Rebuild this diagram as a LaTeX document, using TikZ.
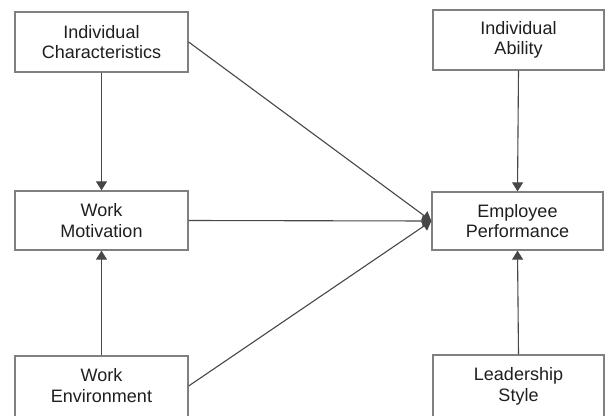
\documentclass[tikz,border=0pt]{standalone}
\usepackage{fontspec}
\setmainfont{Liberation Sans}
\usetikzlibrary{arrows.meta}
\begin{document}
\begin{tikzpicture}[x=1pt,y=-1pt,
  box/.style={draw=black!50, line width=1.3pt, rectangle, align=center, text=black!88,
    font=\fontsize{18}{20.5}\selectfont, inner sep=0pt},
  conn/.style={draw=black!72, line width=1.1pt, -{Triangle[width=11pt,length=9pt]}}]
\useasboundingbox (0,0) rectangle (605,415);
\clip (0,0) rectangle (605,415);
\fill[white] (0,0) rectangle (605,415);
\node[box, minimum width=173pt, minimum height=60pt] (ic) at (101.5,42) {Individual\\Characteristics};
\node[box, minimum width=171pt, minimum height=60pt] (ia) at (518.5,40) {Individual\\Ability};
\node[box, minimum width=173pt, minimum height=59pt] (wm) at (101.5,220.5) {Work\\Motivation};
\node[box, minimum width=171pt, minimum height=58pt] (ep) at (517.5,221) {Employee\\Performance};
\node[box, minimum width=173pt, minimum height=64pt] (we) at (101.5,388) {};
\node[box, minimum width=171pt, minimum height=64pt] (ls) at (518.5,387) {};
\node[box, draw=none, anchor=north] (wet) at (101.5,368) {Work\\Environment};
\node[box, draw=none, anchor=north] (lst) at (518.5,367) {Leadership\\Style};
\draw[conn] (ic.south) -- (wm.north);
\draw[conn] (we.north) -- (wm.south);
\draw[conn] (ia.south) -- (ep.north);
\draw[conn] (ls.north) -- (ep.south);
\draw[conn] (ic.east) -- (ep.west);
\draw[conn] (wm.east) -- (ep.west);
\draw[conn] ([yshift=2pt]we.east) -- (ep.west);
\end{tikzpicture}
\end{document}
